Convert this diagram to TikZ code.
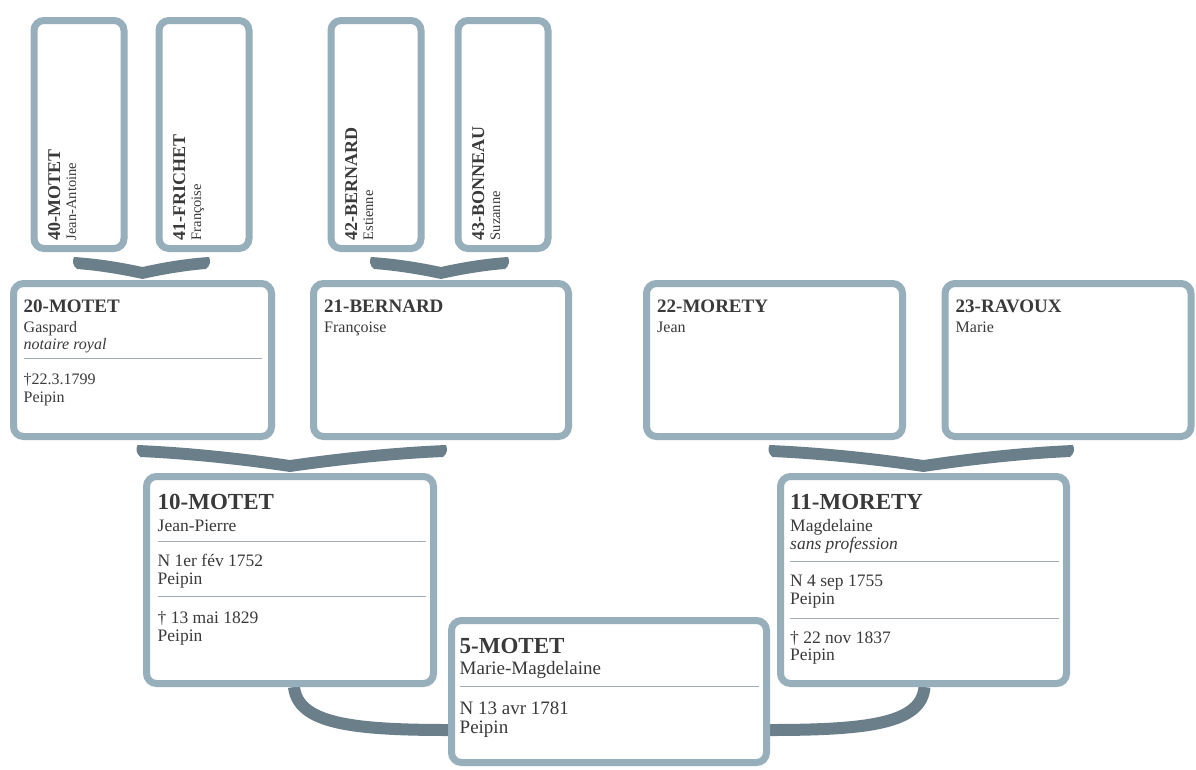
\documentclass[tikz,border=0pt]{standalone}
\usepackage{fontspec}
\setmainfont{Liberation Serif}
\usetikzlibrary{calc}
\definecolor{boxc}{HTML}{97AEBB}
\definecolor{linkc}{HTML}{6B7F8B}
\definecolor{divc}{HTML}{A4ABB0}
\definecolor{txtc}{HTML}{3A3A3A}
\pgfdeclarelayer{page}
\pgfdeclarelayer{links}
\pgfsetlayers{page,links,main}
\newcommand\fsz[1]{\fontsize{#1}{#1}\selectfont}
\tikzset{
  famcard/.style={draw=boxc, line width=7pt, rounded corners=10pt, fill=white, inner sep=0pt},
  txt/.style={inner sep=0pt, anchor=base west, text=txtc},
  ttlA/.style={txt, font={\bfseries\fsz{19}}},
  bodA/.style={txt, font={\fsz{16}}},
  ttlB/.style={txt, font={\bfseries\fsz{23}}},
  bodB/.style={txt, font={\fsz{17.5}}},
  bodC/.style={txt, font={\fsz{19}}},
  rttl/.style={txt, rotate=90, font={\bfseries\fsz{18}}},
  rbod/.style={txt, rotate=90, font={\fsz{14.5}}},
  divline/.style={draw=divc, line width=1.1pt},
  linkline/.style={draw=linkc, line width=12pt},
}
% brace-like connector: two parents (#1,#2) joined to child (#3), thickness 12pt
\newcommand\bracelink[3]{%
  \fill[linkc] let \p1=($(#1.south)+(-5,5)$), \p2=($(#2.south)+(5,5)$), \p3=($(#3.north)+(0,-1)$) in
    (\x1,\y1) .. controls ({\x1+0.35*(\x3-\x1)},{\y1-0.15*(\y1-\y3-12pt)}) and ({\x3-0.3*(\x3-\x1)},{\y1-0.55*(\y1-\y3-12pt)}) .. (\x3,{\y3+12pt})
    .. controls ({\x3+0.3*(\x2-\x3)},{\y1-0.55*(\y1-\y3-12pt)}) and ({\x2-0.35*(\x2-\x3)},{\y1-0.15*(\y1-\y3-12pt)}) .. (\x2,\y1)
    .. controls ({\x2+2pt},{\y1-4pt}) and ({\x2+1pt},{\y1-9pt}) .. ({\x2-3pt},{\y1-12pt})
    .. controls ({\x2-0.35*(\x2-\x3)},{\y1-12pt-0.15*(\y1-\y3-12pt)}) and ({\x3+0.3*(\x2-\x3)},{\y1-12pt-0.55*(\y1-\y3-12pt)}) .. (\x3,\y3)
    .. controls ({\x3-0.3*(\x3-\x1)},{\y1-12pt-0.55*(\y1-\y3-12pt)}) and ({\x1+0.35*(\x3-\x1)},{\y1-12pt-0.15*(\y1-\y3-12pt)}) .. ({\x1+3pt},{\y1-12pt})
    .. controls ({\x1-1pt},{\y1-9pt}) and ({\x1-2pt},{\y1-4pt}) .. (\x1,\y1) -- cycle;%
}
\begin{document}
\begin{tikzpicture}[x=1pt,y=-1pt]
\begin{pgfonlayer}{page}
\fill[white] (0,0) rectangle (1196,769);
\end{pgfonlayer}
\useasboundingbox (0,0) rectangle (1196,769);

% generation 4 (rotated)
\node[famcard, minimum width=90, minimum height=228] (b40) at (79,134.5) {};
\node[famcard, minimum width=90, minimum height=228] (b41) at (204,134.5) {};
\node[famcard, minimum width=90, minimum height=228] (b42) at (376,134.5) {};
\node[famcard, minimum width=90, minimum height=228] (b43) at (503,134.5) {};
% generation 3
\node[famcard, minimum width=258, minimum height=153] (b20) at (142.5,360) {};
\node[famcard, minimum width=255, minimum height=153] (b21) at (441,360) {};
\node[famcard, minimum width=256, minimum height=153] (b22) at (774.5,360) {};
\node[famcard, minimum width=246, minimum height=153] (b23) at (1068,360) {};
% generation 2
\node[famcard, minimum width=287, minimum height=207] (b10) at (290,580) {};
\node[famcard, minimum width=286, minimum height=207] (b11) at (923.5,580) {};
% generation 1
\node[famcard, minimum width=315, minimum height=142] (b5) at (609,691.5) {};

% connectors
\begin{pgfonlayer}{links}
\bracelink{b40}{b41}{b20}
\bracelink{b42}{b43}{b21}
\bracelink{b20}{b21}{b10}
\bracelink{b22}{b23}{b11}
\draw[linkline] ($(b10.south)+(4,0)$) .. controls +(4,36) and +(-98,0) .. ($(b5.west)+(0,38.5)$);
\draw[linkline] ($(b11.south)+(1,0)$) .. controls +(-3,36) and +(100,0) .. ($(b5.east)+(0,38.5)$);
\end{pgfonlayer}

% rotated texts
\node[rttl] (t40a) at ($(b40.south west)+(29.5,-11.5)$) {40-MOTET};
\node[rbod] (t40b) at ($(b40.south west)+(45.5,-11.5)$) {Jean-Antoine};
\node[rttl] (t41a) at ($(b41.south west)+(29.5,-11.5)$) {41-FRICHET};
\node[rbod] (t41b) at ($(b41.south west)+(45.5,-11.5)$) {Françoise};
\node[rttl] (t42a) at ($(b42.south west)+(29.5,-11.5)$) {42-BERNARD};
\node[rbod] (t42b) at ($(b42.south west)+(45.5,-11.5)$) {Estienne};
\node[rttl] (t43a) at ($(b43.south west)+(29.5,-11.5)$) {43-BONNEAU};
\node[rbod] (t43b) at ($(b43.south west)+(45.5,-11.5)$) {Suzanne};

% box 20
\node[ttlA] (t20a) at ($(b20.north west)+(13.5,32.5)$) {20-MOTET};
\node[bodA] (t20b) at ($(b20.north west)+(13.5,52.5)$) {Gaspard};
\node[bodA, font={\itshape\fsz{16}}] (t20c) at ($(b20.north west)+(13.5,69.5)$) {notaire royal};
\draw[divline] ($(b20.north west)+(13.5,78.5)$) -- ($(b20.north east)+(-13.5,78.5)$);
\node[bodA] (t20d) at ($(b20.north west)+(13.5,104.5)$) {†22.3.1799};
\node[bodA] (t20e) at ($(b20.north west)+(13.5,122.5)$) {Peipin};
% box 21
\node[ttlA] (t21a) at ($(b21.north west)+(14,32.5)$) {21-BERNARD};
\node[bodA] (t21b) at ($(b21.north west)+(14,52.5)$) {Françoise};
% box 22
\node[ttlA] (t22a) at ($(b22.north west)+(14,32.5)$) {22-MORETY};
\node[bodA] (t22b) at ($(b22.north west)+(14,52.5)$) {Jean};
% box 23
\node[ttlA] (t23a) at ($(b23.north west)+(14,32.5)$) {23-RAVOUX};
\node[bodA] (t23b) at ($(b23.north west)+(14,52.5)$) {Marie};

% box 10
\node[ttlB] (t10a) at ($(b10.north west)+(14.5,36.5)$) {10-MOTET};
\node[bodB] (t10b) at ($(b10.north west)+(14.5,58.5)$) {Jean-Pierre};
\draw[divline] ($(b10.north west)+(14.5,68.5)$) -- ($(b10.north east)+(-11.5,68.5)$);
\node[bodB] (t10c) at ($(b10.north west)+(14.5,93.5)$) {N 1er fév 1752};
\node[bodB] (t10d) at ($(b10.north west)+(14.5,111.5)$) {Peipin};
\draw[divline] ($(b10.north west)+(14.5,123.5)$) -- ($(b10.north east)+(-11.5,123.5)$);
\node[bodB] (t10e) at ($(b10.north west)+(14.5,150.5)$) {† 13 mai 1829};
\node[bodB] (t10f) at ($(b10.north west)+(14.5,168.5)$) {Peipin};

% box 11
\node[ttlB] (t11a) at ($(b11.north west)+(13,36.5)$) {11-MORETY};
\node[bodB] (t11b) at ($(b11.north west)+(13,58.5)$) {Magdelaine};
\node[bodB, font={\itshape\fsz{17.5}}] (t11c) at ($(b11.north west)+(13,76.5)$) {sans profession};
\draw[divline] ($(b11.north west)+(13,88.5)$) -- ($(b11.north east)+(-11.5,88.5)$);
\node[bodB] (t11d) at ($(b11.north west)+(13,113.5)$) {N 4 sep 1755};
\node[bodB] (t11e) at ($(b11.north west)+(13,131.5)$) {Peipin};
\draw[divline] ($(b11.north west)+(13,145.5)$) -- ($(b11.north east)+(-11.5,145.5)$);
\node[bodB] (t11f) at ($(b11.north west)+(13,170.5)$) {† 22 nov 1837};
\node[bodB] (t11g) at ($(b11.north west)+(13,187.5)$) {Peipin};

% box 5
\node[ttlB] (t5a) at ($(b5.north west)+(11.5,36.5)$) {5-MOTET};
\node[bodC] (t5b) at ($(b5.north west)+(11.5,57.5)$) {Marie-Magdelaine};
\draw[divline] ($(b5.north west)+(11.5,69.5)$) -- ($(b5.north east)+(-11.5,69.5)$);
\node[bodC] (t5c) at ($(b5.north west)+(11.5,97.5)$) {N 13 avr 1781};
\node[bodC] (t5d) at ($(b5.north west)+(11.5,116.5)$) {Peipin};
\end{tikzpicture}
\end{document}
